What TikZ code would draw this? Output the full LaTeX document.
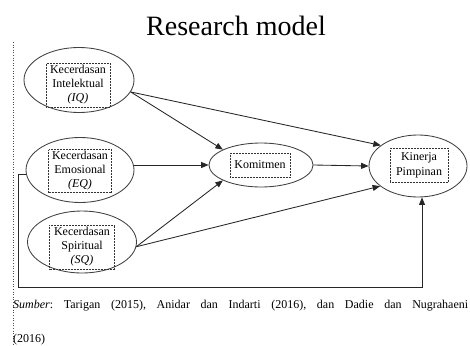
\documentclass[tikz,border=0pt]{standalone}
\usepackage{fontspec}
\setmainfont{Liberation Serif}
\usetikzlibrary{arrows.meta,shapes.geometric}
\frenchspacing
\begin{document}
\begin{tikzpicture}[x=1pt,y=-1pt,
  oval/.style={draw=black!75,line width=0.85pt,ellipse,inner sep=0pt},
  tbox/.style={draw=black!80,densely dotted,line width=0.5pt,inner sep=0pt,align=center,
    font=\fontsize{12}{14}\selectfont},
  arr/.style={draw=black!85,line width=0.85pt,-{Triangle[length=7.5pt,width=6pt]}},
  ln/.style={draw=black!85,line width=0.85pt}]
\useasboundingbox (0,0) rectangle (470,345);
% title
\node[anchor=base,font=\fontsize{28}{30}\selectfont] (title) at (236,35) {Research model};
% dotted left rule
\coordinate (r1) at (13,42);
\coordinate (r2) at (13,345);
\draw[black!70,dotted,line width=0.6pt] (r1) -- (r2);
% ellipses
\node[oval,minimum width=110pt,minimum height=65pt] (iq) at (79,80) {};
\node[oval,minimum width=108pt,minimum height=65pt] (eq) at (80,170) {};
\node[oval,minimum width=109pt,minimum height=62pt] (sq) at (82,242) {};
\node[oval,minimum width=104pt,minimum height=44pt] (kom) at (261,165) {};
\node[oval,minimum width=98pt,minimum height=62pt] (kin) at (418,166) {};
% text boxes
\node[tbox,minimum width=64pt,minimum height=44pt] (iqt) at (78,85) {Kecerdasan\\Intelektual\\\textit{(IQ)}};
\node[tbox,minimum width=63pt,minimum height=43pt] (eqt) at (80,171) {Kecerdasan\\Emosional\\\textit{(EQ)}};
\node[tbox,minimum width=65pt,minimum height=44pt] (sqt) at (82,247) {Kecerdasan\\Spiritual\\\textit{(SQ)}};
\node[tbox,minimum width=60pt,minimum height=24pt] (komt) at (260,165) {Komitmen};
\node[tbox,minimum width=58pt,minimum height=34pt,font=\fontsize{12}{15}\selectfont] (kint) at (419,165) {Kinerja\\Pimpinan};
% arrows
\draw[arr] (iq.-13) -- (kom.158);
\draw[arr] (iq.-13) -- (kin.151);
\draw[arr] (eq.east |- kom) -- (kom.west);
\draw[arr] (sq.-5) -- (kom.202);
\draw[arr] (sq.-5) -- (kin.208);
\draw[arr] (kom.east) -- (kin.west);
% feedback path
\coordinate (fb0) at (18,174);
\coordinate (fb1) at (18,287);
\coordinate (fb2) at (422,287);
\draw[arr] (eq.west |- fb0) -- (fb0) -- (fb1) -- (fb2) -- (kin.south -| fb2);
% source
\node[anchor=base west,inner sep=0pt,font=\fontsize{12}{14}\selectfont] (src) at (13,308)
  {\makebox[455pt][s]{\textit{Sumber}: Tarigan (2015), Anidar dan Indarti (2016), dan Dadie dan Nugrahaeni}};
\node[anchor=base west,inner sep=0pt,font=\fontsize{12}{14}\selectfont] (src2) at (13,342) {(2016)};
\end{tikzpicture}
\end{document}
